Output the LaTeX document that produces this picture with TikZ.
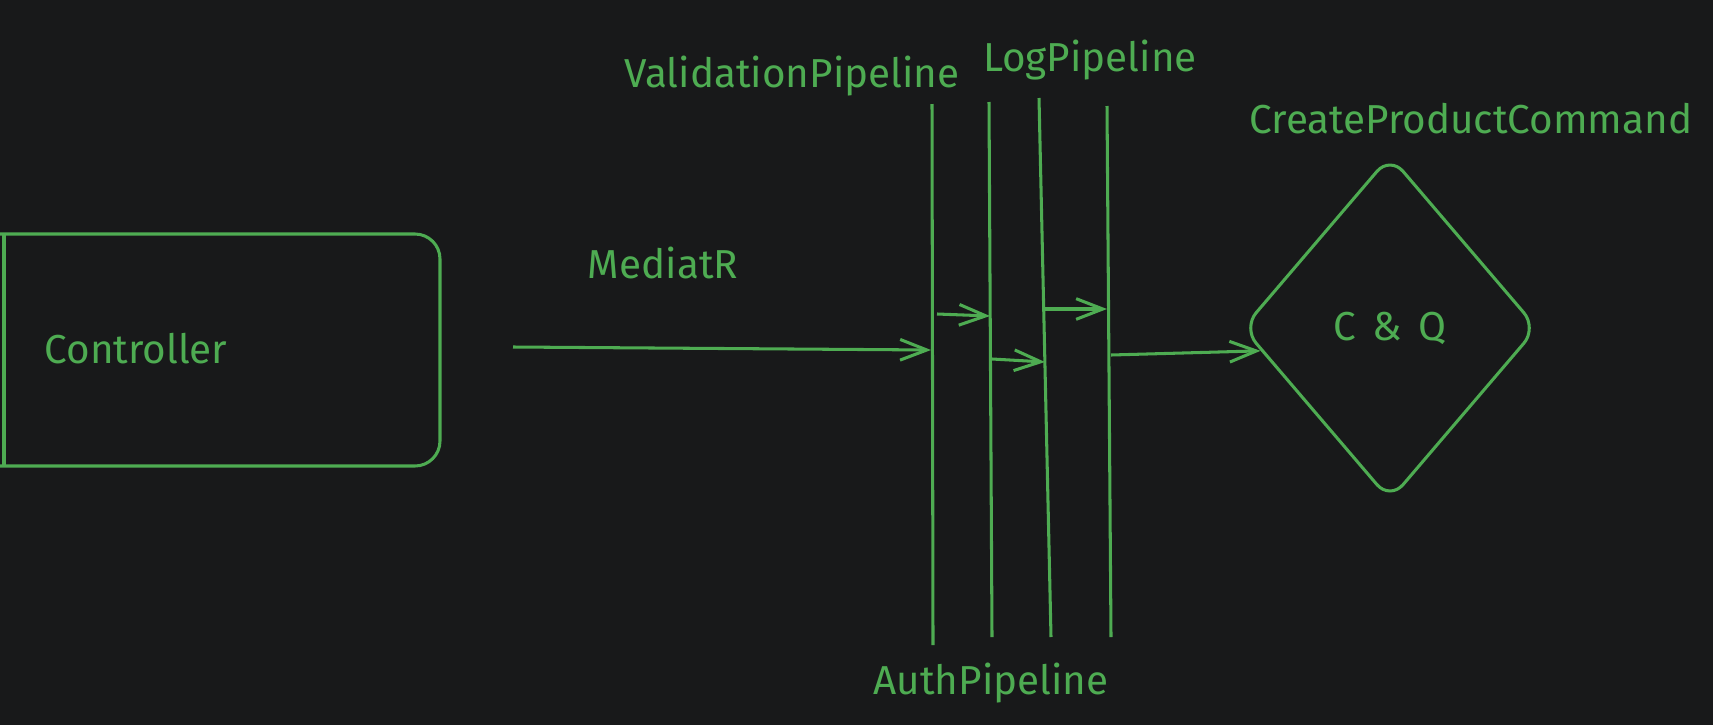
\documentclass[tikz,border=0pt]{standalone}
\usepackage{fontspec}
\setmainfont{Fira Sans}
\usetikzlibrary{arrows.meta,shapes.geometric}
\definecolor{bg}{RGB}{24,25,26}
\definecolor{gr}{RGB}{78,172,82}
\begin{document}
\begin{tikzpicture}[x=0.03cm,y=-0.03cm,
  lbl/.style={text=gr,font=\fontsize{34.5}{40}\selectfont,inner sep=0pt},
  ln/.style={draw=gr,line width=2.6pt},
  arr/.style={ln,-{Straight Barb[length=0.8cm,width=0.62cm]}},
]
\fill[bg] (0,0) rectangle (1713,725);
\useasboundingbox (0,0) rectangle (1713,725);

% Controller box
\draw[ln,rounded corners=0.75cm] (0,234) -- (440,234) -- (440,466) -- (0,466);
\draw[ln] (4,234) -- (4,466);
\node[lbl] (ctrl) at (136,349) {Controller};

% MediatR
\node[lbl] (med) at (663,263) {MediatR};
\coordinate (ms) at (513,347);
\coordinate (me) at (931,350);
\draw[arr] (ms) -- (me);

% pipeline bars
\coordinate (v1t) at (932,104); \coordinate (v1b) at (933,645);
\coordinate (v2t) at (989,102); \coordinate (v2b) at (992,637);
\coordinate (v3t) at (1039,98); \coordinate (v3b) at (1051,637);
\coordinate (v4t) at (1107,106); \coordinate (v4b) at (1111,637);
\draw[ln] (v1t) -- (v1b);
\draw[ln] (v2t) -- (v2b);
\draw[ln] (v3t) -- (v3b);
\draw[ln] (v4t) -- (v4b);

\node[lbl] (val) at (792,76) {ValidationPipeline};
\node[lbl] (log) at (1090,60) {LogPipeline};
\node[lbl] (auth) at (991,683) {AuthPipeline};

% small arrows between bars
\coordinate (a0) at (937,314); \coordinate (a1) at (990,316);
\coordinate (b0) at (992,359); \coordinate (b1) at (1045,362);
\coordinate (c0) at (1043,309); \coordinate (c1) at (1107,309);
\draw[arr] (a0) -- (a1);
\draw[arr] (b0) -- (b1);
\draw[arr] (c0) -- (c1);

% diamond
\node[diamond,draw=gr,line width=2.6pt,rounded corners=0.6cm,inner sep=0pt,
  minimum width=8.85cm,minimum height=10.35cm,text=gr,
  font=\fontsize{34.5}{40}\selectfont] (dia) at (1390,328) {C\hspace{0.4em}\&\hspace{0.4em}Q};
\node[lbl] (cpc) at (1471,119) {CreateProductCommand};

\coordinate (d0) at (1111,355);
\draw[arr] (d0) -- (dia.190);
\end{tikzpicture}
\end{document}
